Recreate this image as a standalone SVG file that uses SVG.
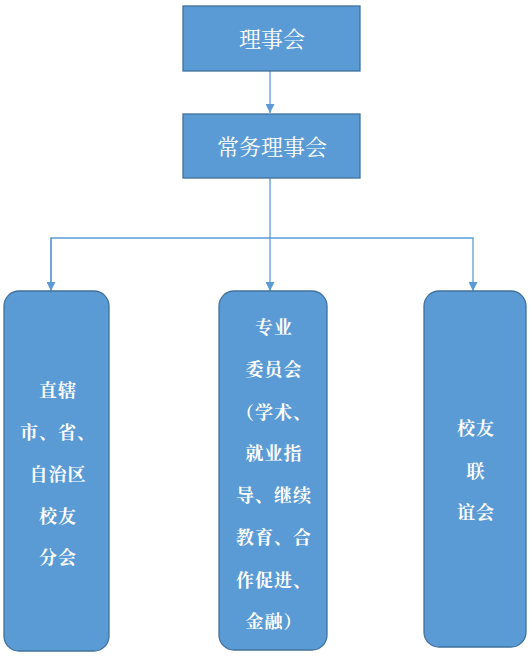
<svg xmlns="http://www.w3.org/2000/svg" width="530" height="657" viewBox="0 0 530 657">
<defs>
<style>
.box{fill:#5b9bd5;stroke:#41719c;stroke-width:1.3}
.t{fill:#fff;font-family:"Noto Serif CJK SC","Noto Sans CJK SC",serif;text-anchor:middle;dominant-baseline:central}
.big{font-size:22px}
.sm{font-size:18px;font-weight:bold;letter-spacing:1px}
.c{fill:none;stroke:#5b9bd5;stroke-width:1.3}
</style>
<marker id="ah" viewBox="0 0 10 10" refX="10" refY="5" markerWidth="9" markerHeight="9" markerUnits="userSpaceOnUse" orient="auto"><path d="M0,0 L10,5 L0,10 Z" fill="#5b9bd5"/></marker>
</defs>
<rect width="530" height="657" fill="#fff"/>
<g id="connectors">
<path class="c" d="M270,71 V113" marker-end="url(#ah)"/>
<path class="c" d="M270,178 V291" marker-end="url(#ah)"/>
<path class="c" d="M51,291 V238 H473 V291" marker-end="url(#ah)"/>
<path class="c" d="M51,238 V291" marker-end="url(#ah)"/>
</g>
<g id="n1"><rect class="box" x="183" y="6" width="177" height="65"/><text class="t big" x="272" y="37">理事会</text></g>
<g id="n2"><rect class="box" x="183" y="114" width="177" height="64"/><text class="t big" x="272" y="145">常务理事会</text></g>
<g id="n3"><rect class="box" x="4" y="291" width="105" height="360" rx="15"/>
<text class="t sm" x="58" y="389">直辖</text>
<text class="t sm" x="58" y="431">市、省、</text>
<text class="t sm" x="58" y="473">自治区</text>
<text class="t sm" x="58" y="515">校友</text>
<text class="t sm" x="58" y="556">分会</text></g>
<g id="n4"><rect class="box" x="219" y="291" width="108" height="359" rx="15"/>
<text class="t sm" x="274" y="326">专业</text>
<text class="t sm" x="274" y="368">委员会</text>
<text class="t sm" x="274" y="411">（学术、</text>
<text class="t sm" x="274" y="452">就业指</text>
<text class="t sm" x="274" y="494">导、继续</text>
<text class="t sm" x="274" y="536">教育、合</text>
<text class="t sm" x="274" y="579">作促进、</text>
<text class="t sm" x="274" y="620">金融）</text></g>
<g id="n5"><rect class="box" x="424" y="291" width="102" height="356" rx="15"/>
<text class="t sm" x="476" y="427">校友</text>
<text class="t sm" x="476" y="470">联</text>
<text class="t sm" x="476" y="511">谊会</text></g>
</svg>
